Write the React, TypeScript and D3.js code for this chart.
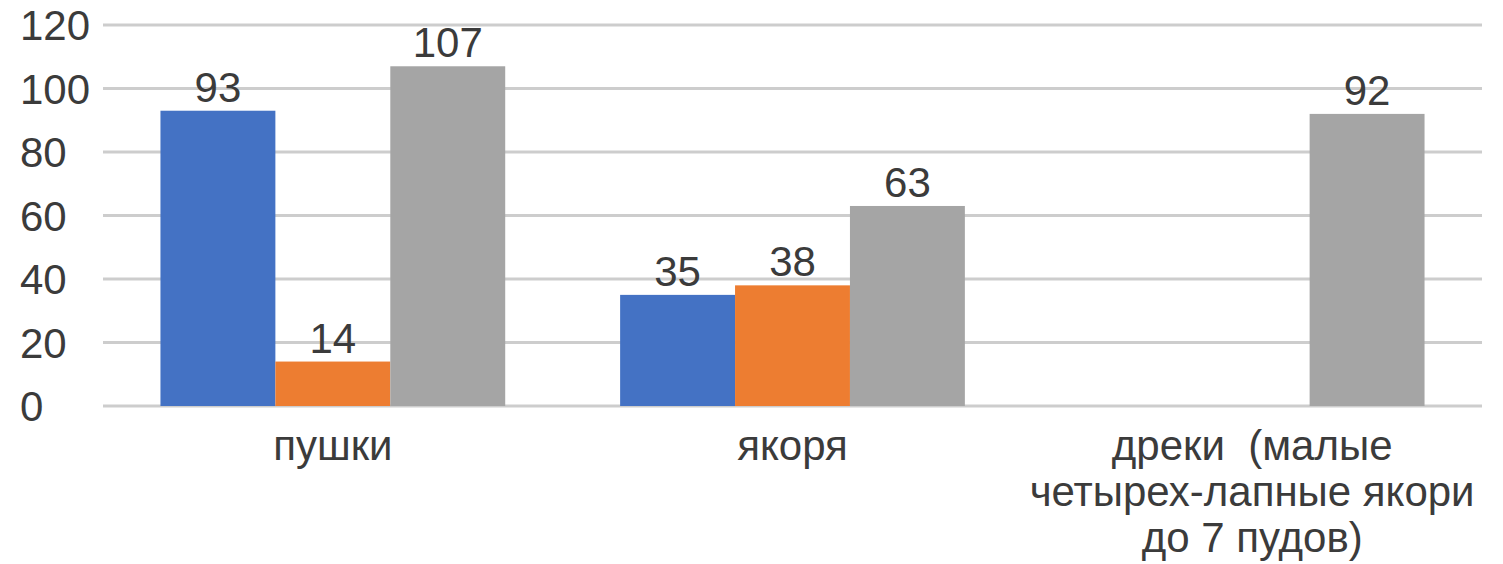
import React from "react";
import * as d3 from "d3";

const categories: string[][] = [
  ["пушки"],
  ["якоря"],
  ["дреки  (малые", "четырех-лапные якори", "до 7 пудов)"],
];
const seriesNames = ["s1", "s2", "s3"];
const seriesColors = ["#4472C4", "#ED7D31", "#A5A5A5"];
const series1: (number | null)[] = [93, 35, null];
const series2: (number | null)[] = [14, 38, null];
const series3: (number | null)[] = [107, 63, 92];
const yTicks = [0, 20, 40, 60, 80, 100, 120];

const W = 1503;
const H = 564;
const margin = { left: 103, right: 21, top: 25, bottom: 158 };

export default function App() {
  const allSeries = [series1, series2, series3];
  const x0 = d3
    .scaleBand<number>()
    .domain(categories.map((_, i) => i))
    .range([margin.left, W - margin.right])
    .paddingInner(0)
    .paddingOuter(0);
  const groupW = x0.bandwidth() * 0.75;
  const x1 = d3
    .scaleBand<number>()
    .domain(seriesNames.map((_, i) => i))
    .range([0, groupW])
    .padding(0);
  const y = d3
    .scaleLinear()
    .domain([0, 120])
    .range([H - margin.bottom, margin.top]);

  const font = "'Liberation Sans', Arial, sans-serif";
  const textColor = "#3b3b3b";

  return (
    <svg
      width={W}
      height={H}
      style={{ position: "absolute", left: 0, top: 0, background: "#fff" }}
      fontFamily={font}
    >
      {yTicks.map((t) => (
        <g key={t}>
          <line
            x1={margin.left}
            x2={W - margin.right}
            y1={y(t)}
            y2={y(t)}
            stroke="#cdcdcd"
            strokeWidth={3}
          />
          <text
            x={20}
            y={y(t)}
            dy="0.36em"
            fontSize={42}
            fill={textColor}
          >
            {t}
          </text>
        </g>
      ))}
      {categories.map((_, ci) => {
        const gx = (x0(ci) as number) + (x0.bandwidth() - groupW) / 2;
        return (
          <g key={ci}>
            {allSeries.map((s, si) => {
              const v = s[ci];
              if (v == null) return null;
              const bx = gx + (x1(si) as number);
              return (
                <g key={si}>
                  <rect
                    x={bx}
                    y={y(v)}
                    width={x1.bandwidth()}
                    height={y(0) - y(v)}
                    fill={seriesColors[si]}
                  />
                  <text
                    x={bx + x1.bandwidth() / 2}
                    y={y(v) - 9}
                    textAnchor="middle"
                    fontSize={42}
                    fill={textColor}
                  >
                    {v}
                  </text>
                </g>
              );
            })}
          </g>
        );
      })}
      {categories.map((lines, ci) => {
        const cx = (x0(ci) as number) + x0.bandwidth() / 2;
        return (
          <text
            key={"c" + ci}
            x={cx}
            y={460}
            textAnchor="middle"
            fontSize={42}
            fill={textColor}
          >
            {lines.map((l, li) => (
              <tspan key={li} x={cx} dy={li === 0 ? 0 : 46} style={{ whiteSpace: "pre" }}>
                {l}
              </tspan>
            ))}
          </text>
        );
      })}
    </svg>
  );
}
